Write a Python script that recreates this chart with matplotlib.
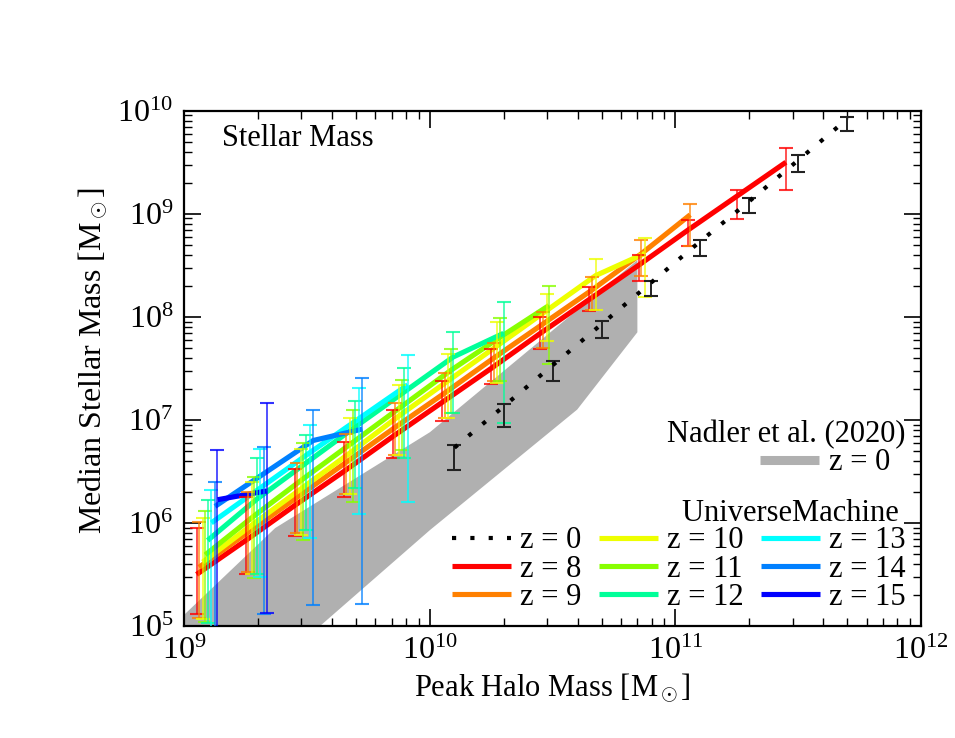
import numpy as np
import matplotlib
matplotlib.use('Agg')
import matplotlib.pyplot as plt
from matplotlib.lines import Line2D
from matplotlib.ticker import LogLocator, NullFormatter

plt.rcParams['font.family'] = ['Liberation Serif', 'DejaVu Serif']
plt.rcParams['mathtext.fontset'] = 'custom'
plt.rcParams['mathtext.rm'] = 'Liberation Serif'
plt.rcParams['mathtext.it'] = 'Liberation Serif:italic'
plt.rcParams['mathtext.bf'] = 'Liberation Serif:bold'

# ---------------- data (log10 values) ----------------
redshifts = [8, 9, 10, 11, 12, 13, 14, 15]
colors = ['#ff0000', '#ff8000', '#eeff00', '#88ff00', '#00ff99', '#00ffff', '#0080ff', '#0000ff']

logm_z8 = [9.05, 9.25, 9.45, 9.65, 9.85, 10.05, 10.25, 10.45, 10.65, 10.85, 11.05, 11.25, 11.45]
med_z8 = [5.50, 5.83, 6.17, 6.50, 6.84, 7.17, 7.50, 7.84, 8.17, 8.50, 8.84, 9.17, 9.50]
lo_z8 = [5.12, 5.50, 5.87, 6.25, 6.63, 6.99, 7.35, 7.69, 8.06, 8.35, 8.69, 8.95, 9.23]
hi_z8 = [5.95, 6.25, 6.52, 6.79, 7.10, 7.38, 7.69, 8.00, 8.29, 8.60, 8.94, 9.23, 9.64]

logm_z9 = [9.06, 9.26, 9.46, 9.66, 9.86, 10.06, 10.26, 10.46, 10.66, 10.86, 11.06]
med_z9 = [5.57, 5.91, 6.25, 6.59, 6.93, 7.26, 7.60, 7.93, 8.26, 8.61, 8.99]
lo_z9 = [5.08, 5.52, 5.90, 6.28, 6.66, 7.02, 7.38, 7.70, 8.07, 8.40, 8.69]
hi_z9 = [6.01, 6.30, 6.58, 6.86, 7.16, 7.45, 7.75, 8.05, 8.39, 8.75, 9.09]

logm_z10 = [9.075, 9.275, 9.475, 9.675, 9.875, 10.075, 10.275, 10.475, 10.675, 10.875]
med_z10 = [5.62, 5.98, 6.33, 6.68, 7.04, 7.38, 7.72, 8.06, 8.40, 8.615]
lo_z10 = [5.07, 5.50, 5.88, 6.28, 6.66, 7.02, 7.36, 7.77, 8.07, 8.19]
hi_z10 = [6.05, 6.40, 6.72, 7.02, 7.34, 7.64, 7.95, 8.22, 8.56, 8.76]

logm_z11 = [9.085, 9.285, 9.485, 9.685, 9.885, 10.085, 10.285, 10.485]
med_z11 = [5.69, 6.07, 6.43, 6.78, 7.13, 7.48, 7.80, 8.11]
lo_z11 = [5.04, 5.47, 5.83, 6.20, 6.71, 7.07, 7.38, 7.54]
hi_z11 = [6.12, 6.45, 6.78, 7.10, 7.39, 7.69, 7.99, 8.30]

logm_z12 = [9.095, 9.295, 9.495, 9.695, 9.895, 10.095, 10.30]
med_z12 = [5.83, 6.23, 6.58, 6.93, 7.27, 7.61, 7.84]
lo_z12 = [5.03, 5.50, 5.93, 6.34, 6.63, 7.07, 6.97]
hi_z12 = [6.22, 6.63, 6.85, 7.18, 7.50, 7.85, 8.14]

logm_z13 = [9.11, 9.31, 9.51, 9.71, 9.91]
med_z13 = [6.00, 6.34, 6.68, 7.01, 7.34]
lo_z13 = [4.98, 5.48, 5.85, 6.09, 6.20]
hi_z13 = [6.32, 6.72, 6.95, 7.31, 7.63]

logm_z14 = [9.125, 9.325, 9.525, 9.725]
med_z14 = [6.16, 6.48, 6.80, 6.91]
lo_z14 = [4.70, 5.12, 5.20, 5.21]
hi_z14 = [6.40, 6.74, 7.10, 7.41]

logm_z15 = [9.135, 9.335]
med_z15 = [6.225, 6.31]
lo_z15 = [4.50, 5.13]
hi_z15 = [6.71, 7.16]

# UniverseMachine z = 0
logm_z0 = [10.1, 10.3, 10.5, 10.7, 10.9, 11.1, 11.3, 11.5, 11.7]
med_z0 = [6.73, 7.13, 7.53, 7.93, 8.33, 8.73, 9.12, 9.52, 9.92]
lo_z0 = [6.51, 6.93, 7.38, 7.79, 8.20, 8.59, 9.01, 9.41, 9.80]
hi_z0 = [6.76, 7.15, 7.57, 7.96, 8.35, 8.75, 9.15, 9.57, 9.94]

# Nadler et al. (2020) z = 0 band
band_up_logm = [9.0, 9.37, 10.0, 10.845]
band_up_logms = [5.11, 5.95, 6.88, 8.55]
band_lo_logm = [9.0, 10.0, 10.6, 10.845]
band_lo_logms = [3.85, 5.93, 7.10, 7.85]

series = [
    (logm_z8, med_z8, lo_z8, hi_z8),
    (logm_z9, med_z9, lo_z9, hi_z9),
    (logm_z10, med_z10, lo_z10, hi_z10),
    (logm_z11, med_z11, lo_z11, hi_z11),
    (logm_z12, med_z12, lo_z12, hi_z12),
    (logm_z13, med_z13, lo_z13, hi_z13),
    (logm_z14, med_z14, lo_z14, hi_z14),
    (logm_z15, med_z15, lo_z15, hi_z15),
]

band_color = '#b0b0b0'
FS = 22

# ---------------- figure ----------------
fig = plt.figure(figsize=(9.55, 7.38), dpi=100)
ax = fig.add_axes([0.193, 0.1518, 0.7714, 0.6982])
ax.set_xscale('log')
ax.set_yscale('log')

bx = np.concatenate([band_up_logm, band_lo_logm[::-1]])
by = np.concatenate([band_up_logms, band_lo_logms[::-1]])
ax.fill(10 ** bx, 10 ** by, color=band_color, lw=0, zorder=1)

handles = []
labels = []
ax.plot(10 ** np.array(logm_z0), 10 ** np.array(med_z0), color='black', lw=3.0,
        linestyle=(0, (1, 3.4)), dash_capstyle='butt', zorder=6)
handles.append(Line2D([], [], color='black', lw=3.0, linestyle=(0, (1, 3.4)), dash_capstyle='butt'))
labels.append('z = 0')

for z, (lm, med, lo, hi), col in zip(redshifts, series, colors):
    x = 10 ** np.array(lm)
    ax.plot(x, 10 ** np.array(med), color=col, lw=3.7, solid_capstyle='butt', zorder=3)
    handles.append(Line2D([], [], color=col, lw=3.7, solid_capstyle='butt'))
    labels.append('z = %d' % z)

for (lm, med, lo, hi), col in zip(series, colors):
    x = 10 ** np.array(lm)
    y = 10 ** np.array(med)
    ylo = 10 ** np.array(lo)
    yhi = 10 ** np.array(hi)
    ax.errorbar(x, y, yerr=[y - ylo, yhi - y], fmt='none', ecolor=col, alpha=0.8,
                elinewidth=1.2, capsize=4.8, capthick=1.5, zorder=4)

x0 = 10 ** np.array(logm_z0)
y0 = 10 ** np.array(med_z0)
ax.errorbar(x0, y0, yerr=[y0 - 10 ** np.array(lo_z0), 10 ** np.array(hi_z0) - y0], fmt='none',
            ecolor='#222222', elinewidth=1.4, capsize=4.8, capthick=1.5, zorder=5)

ax.set_xlim(1e9, 1e12)
ax.set_ylim(1e5, 1e10)

for axis in (ax.xaxis, ax.yaxis):
    axis.set_major_locator(LogLocator(base=10, numticks=12))
    axis.set_minor_locator(LogLocator(base=10, subs=np.arange(2, 10), numticks=30))
    axis.set_minor_formatter(NullFormatter())
ax.tick_params(which='both', direction='in', top=True, right=True)
ax.tick_params(which='major', length=12, width=1.2, labelsize=23, pad=8)
ax.tick_params(which='minor', length=6, width=1.0)
for s in ax.spines.values():
    s.set_linewidth(1.6)

ax.set_xlabel('Peak Halo Mass [M$_\\odot$]', fontsize=22, labelpad=4)
ax.set_ylabel('Median Stellar Mass [M$_\\odot$]', fontsize=23)
ax.yaxis.set_label_coords(-0.101, 0.515)

ax.text(0.051, 0.931, 'Stellar Mass', transform=ax.transAxes, fontsize=FS,
        ha='left', va='baseline')

h_band = Line2D([], [], color=band_color, lw=6.5, solid_capstyle='butt')
leg1 = ax.legend([h_band], ['z = 0  '], title='Nadler et al. (2020)', loc='upper right',
                 bbox_to_anchor=(0.9783, 0.399), frameon=False, fontsize=FS,
                 title_fontsize=FS, handlelength=1.93, handletextpad=0.3, borderpad=0,
                 borderaxespad=0, labelspacing=-0.02, alignment='right')
leg1._legend_box.sep = -1.0
ax.add_artist(leg1)

leg2 = ax.legend(handles, labels, title='UniverseMachine ', ncol=3, loc='lower right',
                 bbox_to_anchor=(0.9796, 0.027), frameon=False, fontsize=FS,
                 title_fontsize=FS, handlelength=1.93, handletextpad=0.3, borderpad=0,
                 borderaxespad=0, labelspacing=-0.02, columnspacing=0.57, alignment='right')
leg2._legend_box.sep = -1.5

fig.savefig('out.png', dpi=100)
